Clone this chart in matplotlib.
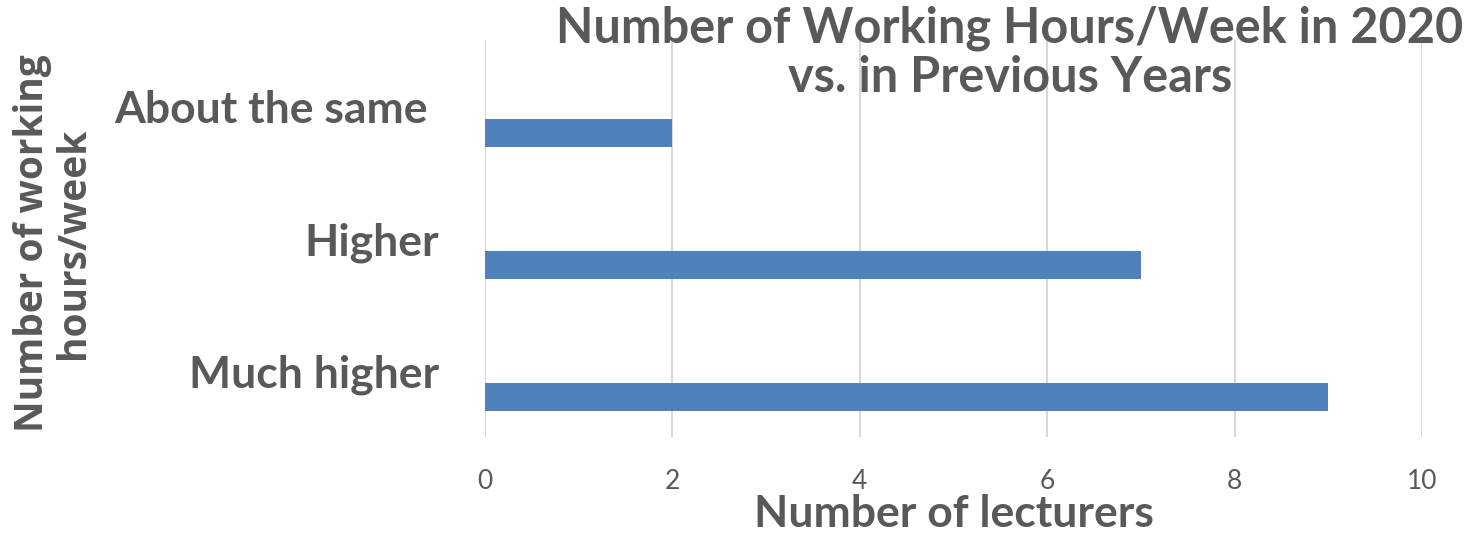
import matplotlib
matplotlib.use('Agg')
import matplotlib.pyplot as plt

# survey answers, bottom to top
categories = ['Much higher', 'Higher', 'About the same ']
lecturers = [9, 7, 2]
xticks = [0, 2, 4, 6, 8, 10]

grey = '#595959'
blue = '#4F81BD'

fig = plt.figure(figsize=(14.66, 5.34), dpi=100)
ax = fig.add_axes([0.3308, 0.1816, 0.6392, 0.7434])

pos = list(range(len(categories)))
ax.barh([p - 0.2 for p in pos], lecturers, height=0.21, color=blue, zorder=3)

ax.set_xlim(0, 10)
ax.set_ylim(-0.5, len(categories) - 0.5)
ax.set_xticks(xticks)
ax.set_xticklabels([str(t) for t in xticks], fontsize=19, color=grey, family='Lato')
ax.set_yticks(pos)
ax.set_yticklabels(categories, fontsize=32, color=grey, family='Lato', fontweight='bold')
ax.tick_params(axis='both', length=0)
ax.tick_params(axis='y', pad=33)
ax.tick_params(axis='x', pad=23)

ax.grid(axis='x', color='#D9D9D9', linewidth=1.5, zorder=0)
for s in ax.spines.values():
    s.set_visible(False)

ax.set_xlabel('Number of lecturers', fontsize=32, color=grey, family='Lato',
              fontweight='bold', labelpad=0)

fig.text(0.689, 0.99, 'Number of Working Hours/Week in 2020\nvs. in Previous Years',
         ha='center', va='top', fontsize=35, color=grey, family='Lato',
         fontweight='bold', linespacing=1.1, zorder=5)

fig.text(0.036, 0.545, 'Number of working\nhours/week', rotation=90,
         ha='center', va='center', fontsize=28, color=grey, family='Open Sans',
         fontweight='bold', linespacing=1.05)

plt.savefig('out.png', dpi=100)
